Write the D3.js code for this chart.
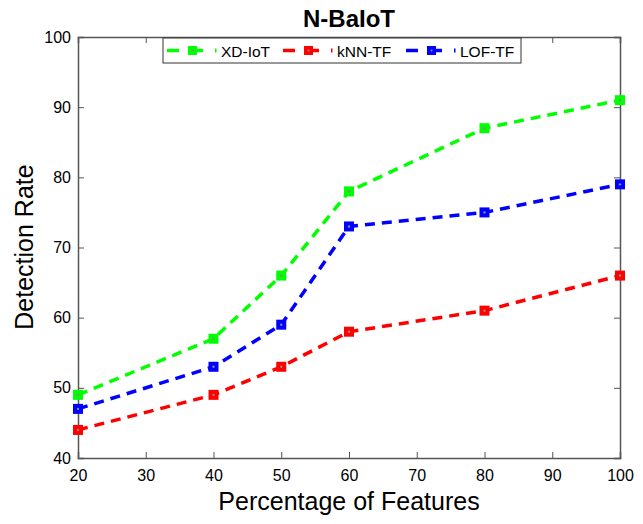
<!DOCTYPE html>
<html><head><meta charset="utf-8">
<script src="https://cdn.jsdelivr.net/npm/d3@7"></script>
<style>body{margin:0;background:#fff}text{font-family:"Liberation Sans",Arial,sans-serif}</style>
</head><body><svg id="c" width="643" height="524"></svg>
<script>
const features = [20, 40, 50, 60, 80, 100];
const xdIoT = [49, 57, 66, 78, 87, 91];
const knnTF = [44, 49, 53, 58, 61, 66];
const lofTF = [47, 53, 59, 73, 75, 79];
const xTicks = [20, 30, 40, 50, 60, 70, 80, 90, 100];
const yTicks = [40, 50, 60, 70, 80, 90, 100];
const seriesNames = ["XD-IoT", "kNN-TF", "LOF-TF"];
const seriesColors = ["#00ff00", "#ff0000", "#0000ff"];
const seriesData = [xdIoT, knnTF, lofTF];

const svg = d3.select("#c");
const L = 78, R = 620, T = 37, B = 458;
const x = d3.scaleLinear().domain([20, 100]).range([L, R]);
const y = d3.scaleLinear().domain([40, 100]).range([B, T]);
const axisColor = "#555";

function styleAxis(g, noText) {
  g.select(".domain").attr("stroke", axisColor).attr("stroke-width", 1.5);
  g.selectAll(".tick line").attr("stroke", axisColor).attr("stroke-width", 1);
  g.selectAll("text").attr("font-size", 16).attr("fill", "#000");
  if (noText) g.selectAll("text").remove();
}
svg.append("g").attr("transform", `translate(0,${B})`)
  .call(d3.axisBottom(x).tickValues(xTicks).tickSize(-6).tickPadding(12).tickFormat(d3.format("d")))
  .call(g => styleAxis(g));
svg.append("g").attr("transform", `translate(0,${T})`)
  .call(d3.axisTop(x).tickValues(xTicks).tickSize(-6).tickFormat(""))
  .call(g => styleAxis(g, true));
svg.append("g").attr("transform", `translate(${L},0)`)
  .call(d3.axisLeft(y).tickValues(yTicks).tickSize(-6).tickPadding(7).tickFormat(d3.format("d")))
  .call(g => styleAxis(g));
svg.append("g").attr("transform", `translate(${R},0)`)
  .call(d3.axisRight(y).tickValues(yTicks).tickSize(-6).tickFormat(""))
  .call(g => styleAxis(g, true));

const line = d3.line().x((d, i) => x(features[i])).y(d => y(d));
seriesData.forEach((data, s) => {
  const g = svg.append("g");
  g.append("path").datum(data).attr("d", line).attr("fill", "none")
    .attr("stroke", seriesColors[s]).attr("stroke-width", 3.5).attr("stroke-dasharray", "10,7");
  g.selectAll("rect").data(data).join("rect")
    .attr("x", (d, i) => x(features[i]) - 5).attr("y", d => y(d) - 5)
    .attr("width", 10).attr("height", 10).attr("fill", seriesColors[s]);
  g.selectAll("circle").data(data).join("circle")
    .attr("cx", (d, i) => x(features[i])).attr("cy", d => y(d)).attr("r", 1.2).attr("fill", "#888");
});

// title & labels
svg.append("text").attr("x", 349).attr("y", 27).attr("text-anchor", "middle")
  .attr("font-size", 24).attr("font-weight", "bold").text("N-BaIoT");
svg.append("text").attr("x", 349).attr("y", 510).attr("text-anchor", "middle")
  .attr("font-size", 25).text("Percentage of Features");
svg.append("text").attr("transform", "translate(33,247) rotate(-90)").attr("text-anchor", "middle")
  .attr("font-size", 25).text("Detection Rate");

// legend
const lg = svg.append("g");
lg.append("rect").attr("x", 163).attr("y", 38).attr("width", 358).attr("height", 25)
  .attr("fill", "#fff").attr("stroke", "#333").attr("stroke-width", 1);
const legX = [167, 283, 406];
seriesNames.forEach((name, s) => {
  const lx = legX[s], ly = 50.5;
  lg.append("line").attr("x1", lx).attr("x2", lx + 12).attr("y1", ly).attr("y2", ly)
    .attr("stroke", seriesColors[s]).attr("stroke-width", 3.5);
  lg.append("rect").attr("x", lx + 21).attr("y", ly - 4.5).attr("width", 9).attr("height", 9).attr("fill", seriesColors[s]);
  lg.append("line").attr("x1", lx + 30).attr("x2", lx + 36).attr("y1", ly).attr("y2", ly)
    .attr("stroke", seriesColors[s]).attr("stroke-width", 3.5);
  lg.append("circle").attr("cx", lx + 25.5).attr("cy", ly).attr("r", 1.1).attr("fill", "#888");
  lg.append("rect").attr("x", lx + 48).attr("y", ly - 2).attr("width", 1.5).attr("height", 4).attr("fill", seriesColors[s]);
  lg.append("text").attr("x", lx + 54).attr("y", ly + 6).attr("font-size", 15.5).text(name);
});
</script></body></html>
